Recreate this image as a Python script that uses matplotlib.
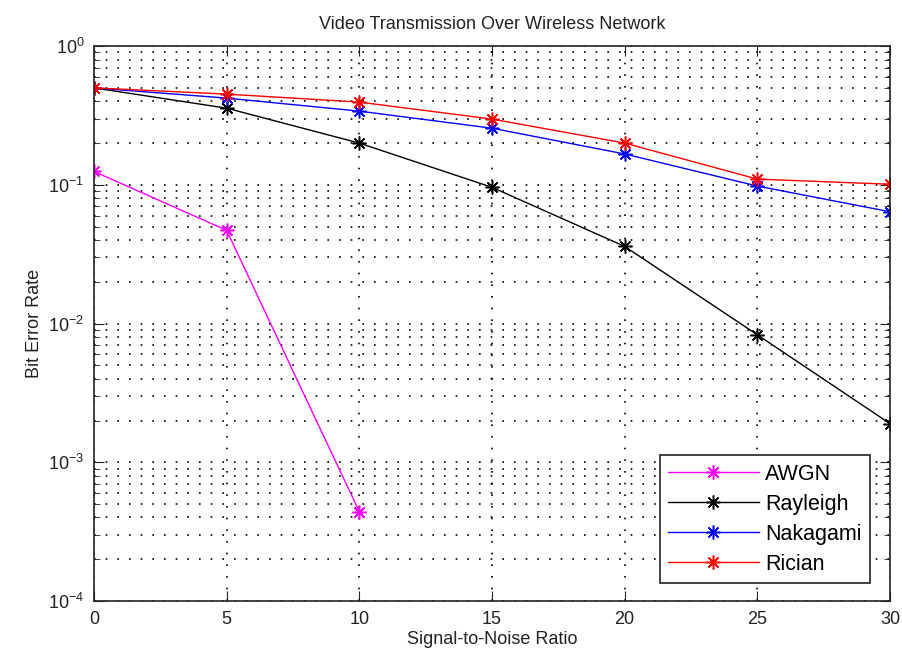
import numpy as np
import matplotlib
matplotlib.use('Agg')
import matplotlib.pyplot as plt
from matplotlib.ticker import LogLocator, NullFormatter

# SNR points
snr = [0, 5, 10, 15, 20, 25, 30]
snr_awgn = [0, 5, 10]

# BER values
ber_awgn = [0.125, 0.047, 0.00044]
ber_rayleigh = [0.5, 0.357, 0.2, 0.096, 0.036, 0.0083, 0.0019]
ber_nakagami = [0.5, 0.422, 0.34, 0.256, 0.167, 0.098, 0.064]
ber_rician = [0.5, 0.451, 0.395, 0.298, 0.2, 0.11, 0.101]

plt.rcParams['font.family'] = ['Liberation Sans', 'DejaVu Sans']

fig = plt.figure(figsize=(9.02, 6.59), dpi=100)
ax = fig.add_axes([0.1042, 0.088, 0.8825, 0.842])

star = (8, 2, 0)  # matlab style asterisk
kw = dict(lw=1, ms=10, mew=1.1)
ax.semilogy(snr_awgn, ber_awgn, '-', marker=star, color='#ff00ff', label='AWGN', **kw)
ax.semilogy(snr, ber_rayleigh, '-', marker=star, color='k', label='Rayleigh', **kw)
ax.semilogy(snr, ber_nakagami, '-', marker=star, color='#0000ff', label='Nakagami', **kw)
ax.semilogy(snr, ber_rician, '-', marker=star, color='#ff0000', label='Rician', **kw)

ax.set_xlim(0, 30)
ax.set_ylim(1e-4, 1)
ax.set_xticks([0, 5, 10, 15, 20, 25, 30])
ax.yaxis.set_major_locator(LogLocator(base=10, numticks=10))
ax.yaxis.set_minor_locator(LogLocator(base=10, subs=np.arange(2, 10), numticks=20))
ax.yaxis.set_minor_formatter(NullFormatter())

dots = (0, (1, 6))
ax.grid(True, which='major', ls=dots, color='k', lw=1.2)
ax.grid(True, which='minor', axis='y', ls=dots, color='k', lw=1.2)

ax.tick_params(which='both', direction='in', top=True, right=True, labelsize=13, colors='#222222')
ax.tick_params(which='major', length=7, pad=7)
ax.tick_params(which='minor', length=4)
for s in ax.spines.values():
    s.set_color('#222222')
    s.set_linewidth(1.2)

ax.set_title('Video Transmission Over Wireless Network', fontsize=13, color='#222222', pad=12)
ax.set_xlabel('Signal-to-Noise Ratio', fontsize=13, color='#222222', labelpad=2)
ax.set_ylabel('Bit Error Rate', fontsize=13, color='#222222', labelpad=4)

leg = ax.legend(loc='lower right', bbox_to_anchor=(0.975, 0.032), borderaxespad=0,
                fontsize=15.5, fancybox=False, edgecolor='#222222', framealpha=1,
                handlelength=4.2, handletextpad=0.3, labelspacing=0.42, borderpad=0.4)
leg.get_frame().set_linewidth(1.2)

plt.savefig('out.png', dpi=100)
